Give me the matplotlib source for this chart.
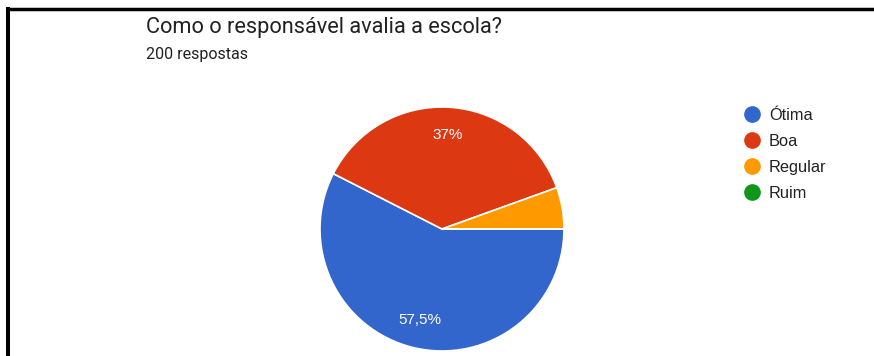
import matplotlib.pyplot as plt
from matplotlib.lines import Line2D

plt.rcParams["font.family"] = ["Roboto", "DejaVu Sans"]

# survey answers (200 responses)
categories = ["Ótima", "Boa", "Regular", "Ruim"]
counts = [115, 74, 11, 0]
colors = ["#3366cc", "#dc3912", "#ff9900", "#109618"]
title = "Como o responsável avalia a escola?"
subtitle = "200 respostas"

W, H, DPI = 874, 356, 100
fig = plt.figure(figsize=(W / DPI, H / DPI), dpi=DPI)
fig.patch.set_facecolor("white")


def px(x, y):
    return x / W, 1 - y / H


# frame on the left and top
fig.add_artist(Line2D([8 / W, 8 / W], [0, 1 - 7 / H], transform=fig.transFigure,
                      color="black", lw=2.9, solid_capstyle="butt"))
fig.add_artist(Line2D([6 / W, 1], [1 - 8.5 / H, 1 - 8.5 / H], transform=fig.transFigure,
                      color="black", lw=2.5, solid_capstyle="butt"))

fig.text(*px(146, 27), title, fontsize=15.7, color="#202124", va="center", ha="left")
fig.text(*px(146, 55), subtitle, fontsize=11.5, color="#202124", va="center", ha="left")

# pie: centre (442, 229), radius 122 px
cx, cy, r = 442, 229, 122
ax = fig.add_axes([(cx - r) / W, (H - cy - r) / H, 2 * r / W, 2 * r / H])


def pct_label(p):
    if p < 10:
        return ""
    return f"{p:.1f}".rstrip("0").rstrip(".").replace(".", ",") + "%"


wedges, _, autotexts = ax.pie(
    counts, colors=colors, startangle=0, counterclock=False,
    autopct=pct_label, pctdistance=0.77,
    wedgeprops=dict(edgecolor="white", linewidth=1.2),
    textprops=dict(color="white", fontsize=11, family=["Liberation Sans", "DejaVu Sans"]),
)
ax.set_xlim(-1, 1)
ax.set_ylim(-1, 1)
ax.set_aspect("equal")
ax.axis("off")

handles = [Line2D([], [], marker="o", linestyle="none", markersize=11,
                  markerfacecolor=c, markeredgecolor=c) for c in colors]
fig.legend(handles, categories, loc="upper left", bbox_to_anchor=px(727, 93),
           frameon=False, labelspacing=0.68, handletextpad=0.45,
           handlelength=1.2, labelcolor="#222222",
           prop=dict(family=["Liberation Sans", "DejaVu Sans"], size=11.8))

fig.savefig("out.png", dpi=DPI)
